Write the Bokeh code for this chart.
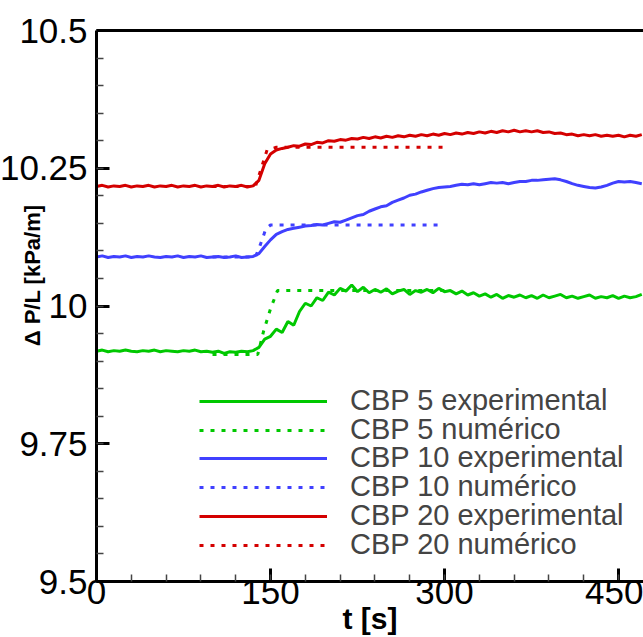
from bokeh.embed import file_html
from bokeh.models import FixedTicker, Legend, LegendItem, LinearAxis, Range1d
from bokeh.plotting import figure
from bokeh.resources import INLINE

# ---------------------------------------------------------------------------
# Pressure gradient vs time for three CBP concentrations
# experimental signals sampled every 5 s, numerical results as step responses
# ---------------------------------------------------------------------------
dt_exp = 5  # s between experimental samples

cbp5_exp = [
    9.918, 9.920, 9.917, 9.919, 9.918, 9.920, 9.918, 9.917, 9.919, 9.918,
    9.920, 9.917, 9.919, 9.918, 9.917, 9.919, 9.918, 9.920, 9.917, 9.918,
    9.916, 9.918, 9.914, 9.917, 9.916, 9.918, 9.917, 9.919,
    9.925, 9.940, 9.945, 9.958, 9.952, 9.972, 9.965, 9.990, 10.005, 10.000,
    10.015, 10.010, 10.025, 10.020, 10.032, 10.027, 10.038, 10.026, 10.034, 10.024,
    10.030, 10.025, 10.031, 10.022, 10.027, 10.030, 10.021, 10.028, 10.025, 10.030,
    10.024, 10.032, 10.026, 10.028, 10.022, 10.027, 10.020, 10.024, 10.018, 10.022,
    10.016, 10.021, 10.014, 10.019, 10.016, 10.020, 10.015, 10.019, 10.014, 10.020,
    10.015, 10.018, 10.021, 10.015, 10.018, 10.014, 10.017, 10.020, 10.014, 10.017,
    10.015, 10.019, 10.014, 10.018, 10.015, 10.017, 10.021,
]

cbp10_exp = [
    10.089, 10.091, 10.088, 10.090, 10.089, 10.091, 10.088, 10.090, 10.089, 10.091,
    10.089, 10.088, 10.090, 10.089, 10.091, 10.088, 10.090, 10.089, 10.091, 10.088,
    10.089, 10.090, 10.088, 10.089, 10.091, 10.088, 10.089, 10.090,
    10.095, 10.108, 10.120, 10.130, 10.135, 10.139, 10.141, 10.143, 10.145, 10.146,
    10.148, 10.147, 10.150, 10.153, 10.152, 10.156, 10.160, 10.164, 10.166, 10.172,
    10.176, 10.180, 10.182, 10.188, 10.192, 10.196, 10.201, 10.203, 10.207, 10.210,
    10.213, 10.215, 10.216, 10.217, 10.219, 10.221, 10.220, 10.222, 10.220, 10.222,
    10.224, 10.223, 10.224, 10.222, 10.224, 10.226, 10.226, 10.228, 10.228, 10.229,
    10.230, 10.231, 10.229, 10.226, 10.222, 10.219, 10.217, 10.215, 10.214, 10.216,
    10.219, 10.223, 10.226, 10.225, 10.226, 10.224, 10.222,
]

cbp20_exp = [
    10.217, 10.219, 10.216, 10.218, 10.217, 10.219, 10.216, 10.218, 10.217, 10.219,
    10.216, 10.218, 10.217, 10.219, 10.216, 10.218, 10.217, 10.219, 10.216, 10.218,
    10.217, 10.219, 10.216, 10.218, 10.217, 10.219, 10.216, 10.218,
    10.228, 10.258, 10.276, 10.283, 10.286, 10.288, 10.291, 10.290, 10.294, 10.293,
    10.297, 10.296, 10.300, 10.299, 10.302, 10.301, 10.304, 10.303, 10.306, 10.304,
    10.307, 10.305, 10.308, 10.306, 10.309, 10.307, 10.310, 10.308, 10.311, 10.309,
    10.312, 10.310, 10.313, 10.311, 10.314, 10.312, 10.315, 10.313, 10.316, 10.314,
    10.317, 10.315, 10.318, 10.316, 10.319, 10.316, 10.318, 10.316, 10.318, 10.315,
    10.316, 10.313, 10.314, 10.311, 10.312, 10.309, 10.311, 10.309, 10.311, 10.308,
    10.310, 10.308, 10.310, 10.307, 10.310, 10.308, 10.311,
]

t_exp = [dt_exp * i for i in range(len(cbp5_exp))]

cbp5_num_t = [100, 139, 144, 150, 156, 300]
cbp5_num = [9.912, 9.912, 9.954, 9.995, 10.028, 10.028]
cbp10_num_t = [100, 137, 141, 146, 150, 300]
cbp10_num = [10.089, 10.089, 10.110, 10.140, 10.147, 10.147]
cbp20_num_t = [100, 137, 142, 147, 155, 300]
cbp20_num = [10.217, 10.217, 10.250, 10.283, 10.288, 10.288]

x_ticks = [0, 150, 300, 450]
y_ticks = [9.5, 9.75, 10.0, 10.25, 10.5]
y_tick_labels = ["9.5", "9.75", "10", "10.25", "10.5"]

legend_labels = ["CBP 5 experimental", "CBP 5 numérico",
                 "CBP 10 experimental", "CBP 10 numérico",
                 "CBP 20 experimental", "CBP 20 numérico"]

GREEN = "#00C800"
BLUE = "#4040FF"
RED = "#D40000"
FONT = "Liberation Sans"
TICK_FONT = "'Liberation Sans Narrow', 'Liberation Sans'"
NBSP = "\u00a0"

p = figure(width=643, height=637, output_backend="svg", toolbar_location=None,
           x_range=Range1d(0, 471.5), y_range=Range1d(9.5, 10.5),
           x_axis_location=None, y_axis_location=None,
           min_border_left=96, min_border_right=0, min_border_top=30,
           min_border_bottom=55)
p.outline_line_color = None
p.grid.visible = False
p.background_fill_color = "white"
p.border_fill_color = "white"


def style_axis(ax):
    ax.axis_line_width = 3
    ax.axis_line_color = "black"
    ax.major_tick_in = 13
    ax.major_tick_out = 0
    ax.major_tick_line_width = 3
    ax.minor_tick_in = 7
    ax.minor_tick_out = 0
    ax.minor_tick_line_width = 1.5
    ax.minor_tick_line_color = "#444444"
    ax.major_label_text_font = TICK_FONT
    ax.major_label_text_font_size = "35px"
    ax.major_label_text_color = "black"
    ax.axis_label_text_font = FONT
    ax.axis_label_text_font_style = "bold"
    ax.axis_label_text_color = "black"


xaxis = LinearAxis(ticker=FixedTicker(ticks=x_ticks,
                                      minor_ticks=[30 * i for i in range(1, 16)]))
style_axis(xaxis)
xaxis.major_label_standoff = -2
xaxis.axis_label = "t [s]"
xaxis.axis_label_text_font_size = "30px"
xaxis.axis_label_standoff = -5
p.add_layout(xaxis, "below")

yaxis = LinearAxis(ticker=FixedTicker(ticks=y_ticks,
                                      minor_ticks=[9.5 + 0.05 * i for i in range(1, 20)]))
style_axis(yaxis)
yaxis.major_label_standoff = 9
yaxis.major_label_overrides = {v: s for v, s in zip(y_ticks, y_tick_labels)}
# leading no-break spaces lift the title above the middle of the axis
yaxis.axis_label = NBSP * 10 + "Δ P/L [kPa/m]"
yaxis.axis_label_text_font_size = "22px"
yaxis.axis_label_standoff = -48
p.add_layout(yaxis, "left")

top = LinearAxis(ticker=FixedTicker(ticks=[]))
top.axis_line_width = 3
top.major_tick_in = 0
top.major_tick_out = 0
top.minor_tick_in = 0
top.minor_tick_out = 0
top.major_label_text_font_size = "0px"
p.add_layout(top, "above")

# measured signals and numerical predictions
r5e = p.line(t_exp, cbp5_exp, line_color=GREEN, line_width=3)
r5n = p.line(cbp5_num_t, cbp5_num, line_color=GREEN, line_width=3, line_dash="4 7")
r10e = p.line(t_exp, cbp10_exp, line_color=BLUE, line_width=3)
r10n = p.line(cbp10_num_t, cbp10_num, line_color=BLUE, line_width=3, line_dash="4 7")
r20e = p.line(t_exp, cbp20_exp, line_color=RED, line_width=3)
r20n = p.line(cbp20_num_t, cbp20_num, line_color=RED, line_width=3, line_dash="4 7")

# one single-entry legend per row, so the rows sit closer than the text box allows
row_offsets = [164, 135, 107, 78, 49, 20]
for label, rend, dy in zip(legend_labels, [r5e, r5n, r10e, r10n, r20e, r20n], row_offsets):
    lg = Legend(items=[LegendItem(label=label, renderers=[rend])], location=(103, dy))
    lg.label_text_font = FONT
    lg.label_text_font_size = "29px"
    lg.glyph_width = 128
    lg.glyph_height = 28
    lg.label_height = 28
    lg.padding = 0
    lg.margin = 0
    lg.label_standoff = 23
    lg.border_line_color = None
    lg.background_fill_alpha = 0
    p.add_layout(lg)

open("out.html", "w").write(file_html(p, INLINE))
